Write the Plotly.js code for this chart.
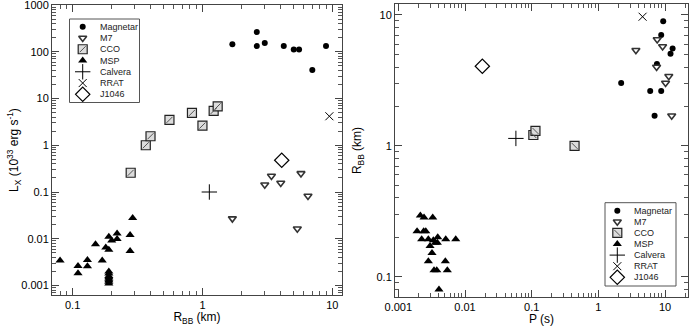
<!DOCTYPE html>
<html><head><meta charset="utf-8">
<script src="https://cdn.plot.ly/plotly-3.0.1.min.js"></script>
<style>html,body{margin:0;padding:0;background:#fff}</style>
</head><body><div id="chart" style="width:690px;height:326px"></div>
<script>
// ---------------- data ----------------
// Magnetars
const magR = [1.70, 2.62, 2.62, 3.02, 4.23, 5.05, 5.55, 7.02, 8.95];
const magL = [144, 264, 132, 153, 132, 112, 112, 40.6, 132];
const magP = [6.98, 6.0, 8.77, 2.20, 7.57, 12.1, 13.0, 8.77, 9.40];
// M7
const m7R = [1.70, 3.02, 3.40, 4.01, 5.38, 5.74, 6.50];
const m7L = [0.027, 0.143, 0.22, 0.156, 0.0164, 0.25, 0.082];
const m7P = [12.6, 10.2, 11.4, 7.48, 3.66, 9.2, 7.64];
// CCO (left panel: R vs L)
const ccoR = [0.28, 0.366, 0.398, 0.557, 0.83, 1.0, 1.22, 1.31];
const ccoL = [0.258, 1.0, 1.56, 3.49, 4.92, 2.64, 5.43, 6.8];
// CCO with known period (right panel)
const ccoP = [0.106, 0.114, 0.44];
const ccoRp = [1.21, 1.30, 1.0];
// MSP left panel
const mspR = [0.080, 0.110, 0.110, 0.130, 0.130, 0.150, 0.169, 0.180, 0.190, 0.190, 0.200, 0.220, 0.220, 0.277, 0.290, 0.277,
              0.19, 0.19, 0.19, 0.19, 0.19, 0.19, 0.19, 0.19];
const mspL = [0.00343, 0.00261, 0.00182, 0.0035, 0.00257, 0.0076, 0.00343, 0.0065, 0.0110, 0.0058, 0.0092, 0.013, 0.0099, 0.012, 0.0277, 0.00546,
              0.0011, 0.0012, 0.0013, 0.0014, 0.0015, 0.0016, 0.0018, 0.0020];
// MSP right panel
const mspP = [0.00214, 0.00243, 0.00328, 0.00191, 0.00240, 0.00258, 0.00224, 0.00282, 0.00335, 0.00390, 0.00514,
              0.00726, 0.00299, 0.00359, 0.00385, 0.00320, 0.00282, 0.00507, 0.00343, 0.00377, 0.00543, 0.00407];
const mspRp = [0.294, 0.283, 0.283, 0.223, 0.223, 0.223, 0.193, 0.193, 0.190, 0.200, 0.193,
               0.193, 0.172, 0.182, 0.182, 0.152, 0.131, 0.131, 0.112, 0.112, 0.112, 0.080];
// Calvera, RRAT, J1046
const calR = [1.13], calL = [0.10], calP = [0.058], calRp = [1.14];
const rratR = [9.5], rratL = [4.17], rratP = [4.61], rratRp = [9.7];
const jR = [4.08], jL = [0.478], jP = [0.0182], jRp = [4.06];

const legendLabels = ['Magnetar', 'M7', 'CCO', 'MSP', 'Calvera', 'RRAT', 'J1046'];
const lxTickVals = [0.001, 0.01, 0.1, 1, 10, 100, 1000];
const lxTickText = ['0.001', '0.01', '0.1', '1', '10', '100', '1000'];
const rTickVals = [0.1, 1, 10];
const rTickText = ['0.1', '1', '10'];
const pTickVals = [0.001, 0.01, 0.1, 1, 10];
const pTickText = ['0.001', '0.01', '0.1', '1', '10'];

// ---------------- styles ----------------
const FONT = 'Liberation Sans, Arial, Helvetica, sans-serif';
const W = 690, H = 326;
const styles = {
  Magnetar: {symbol: 'circle', size: 6, color: '#000', line: {color: '#000', width: 0}},
  M7: {symbol: 'triangle-down', size: 7, color: '#fff', line: {color: '#333', width: 1.6}},
  CCO: {symbol: 'square', size: 9, color: '#dcdcdc', line: {color: '#222', width: 1.2}},
  MSP: {symbol: 'triangle-up', size: 8, color: '#000', line: {color: '#000', width: 0}},
  Calvera: {symbol: 'cross-thin-open', size: 11, color: '#000', line: {color: '#000', width: 1}},
  RRAT: {symbol: 'x-thin-open', size: 8, color: '#000', line: {color: '#000', width: 1}},
  J1046: {symbol: 'diamond-open', size: 11, color: '#000', line: {color: '#000', width: 1.2}}
};
function hatch(dir) {
  return {symbol: dir, size: 6, color: '#555', line: {color: '#555', width: 1}};
}

// plot areas in pixels [left, right, top, bottom] and log ranges
const area = {
  x: [52, 342], y: [5, 295], x2: [395, 688], y2: [4, 297]
};
const ranges = {
  x: [-1.159, 1.075], y: [-3.203, 3.0],
  x2: [-3.05, 1.345], y2: [-1.155, 1.084]
};

const traces = [];
function add(name, x, y, xa, ya) {
  traces.push({type: 'scatter', mode: 'markers', x: x, y: y, xaxis: xa, yaxis: ya,
    marker: styles[name], showlegend: false, hoverinfo: 'skip', cliponaxis: false});
  if (name === 'CCO') {
    traces.push({type: 'scatter', mode: 'markers', x: x, y: y, xaxis: xa, yaxis: ya,
      marker: hatch(xa === 'x' ? 'line-ne' : 'line-nw'), showlegend: false, hoverinfo: 'skip', cliponaxis: false});
  }
}
// left panel
add('Magnetar', magR, magL, 'x', 'y');
add('M7', m7R, m7L, 'x', 'y');
add('CCO', ccoR, ccoL, 'x', 'y');
add('MSP', mspR, mspL, 'x', 'y');
add('Calvera', calR, calL, 'x', 'y');
add('RRAT', rratR, rratL, 'x', 'y');
add('J1046', jR, jL, 'x', 'y');
// right panel
add('Magnetar', magP, magR, 'x2', 'y2');
add('M7', m7P, m7R, 'x2', 'y2');
add('CCO', ccoP, ccoRp, 'x2', 'y2');
add('MSP', mspP, mspRp, 'x2', 'y2');
add('Calvera', calP, calRp, 'x2', 'y2');
add('RRAT', rratP, rratRp, 'x2', 'y2');
add('J1046', jP, jRp, 'x2', 'y2');

// ---------------- manual legends (pixel layout converted to paper / axis values) ----------------
const shapes = [], annotations = [];
function px2x(xa, px) { const a = area[xa], r = ranges[xa]; return Math.pow(10, r[0] + (px - a[0]) / (a[1] - a[0]) * (r[1] - r[0])); }
function px2y(ya, py) { const a = area[ya], r = ranges[ya]; return Math.pow(10, r[0] + (a[1] - py) / (a[1] - a[0]) * (r[1] - r[0])); }
function legend(xa, ya, box, symX, textX, rowTop, rowStep) {
  shapes.push({type: 'rect', xref: 'paper', yref: 'paper',
    x0: box[0] / W, x1: box[1] / W, y0: 1 - box[3] / H, y1: 1 - box[2] / H,
    line: {color: '#555', width: 1}, fillcolor: '#fff', layer: 'below'});
  legendLabels.forEach(function (lab, i) {
    const py = rowTop + i * rowStep;
    add(lab, [px2x(xa, symX)], [px2y(ya, py)], xa, ya);
    annotations.push({xref: 'paper', yref: 'paper', x: textX / W, y: 1 - py / H, text: lab, showarrow: false,
      xanchor: 'left', yanchor: 'middle', font: {family: FONT, size: 9, color: '#222'}});
  });
}
legend('x', 'y', [69.5, 139.5, 19, 102.5], 82.7, 98, 26.7, 11.27);
legend('x2', 'y2', [605, 676, 202.7, 286], 617.3, 632, 210.7, 11.1);

function logAxis(key, tv, tt, title) {
  const isX = key.charAt(0) === 'x';
  const a = area[key];
  const domain = isX ? [a[0] / W, a[1] / W] : [1 - a[1] / H, 1 - a[0] / H];
  return {
    type: 'log', range: ranges[key], domain: domain,
    anchor: isX ? key.replace('x', 'y') : key.replace('y', 'x'),
    tickmode: 'array', tickvals: tv, ticktext: tt,
    ticks: 'inside', ticklen: 7, tickwidth: 1, tickcolor: '#444',
    mirror: 'allticks', showline: true, linecolor: '#444', linewidth: 1,
    showgrid: false, zeroline: false, ticklabeloverflow: 'allow',
    tickfont: {family: FONT, size: 11, color: '#000'},
    title: {text: title, font: {family: FONT, size: 12, color: '#000'}},
    automargin: false
  };
}
// overlay axes carrying only the minor (2..9) ticks
function minorVals(r) {
  const out = [];
  for (let e = Math.floor(r[0]); e <= Math.ceil(r[1]); e++) for (let k = 2; k <= 9; k++) out.push(k * Math.pow(10, e));
  return out;
}
function minorAxis(base, anchor) {
  return {
    type: 'log', range: ranges[base], overlaying: base, anchor: anchor,
    tickmode: 'array', tickvals: minorVals(ranges[base]), showticklabels: false,
    ticks: 'inside', ticklen: 4, tickwidth: 1, tickcolor: '#555',
    mirror: 'allticks', showline: false, showgrid: false, zeroline: false
  };
}
traces.push({type: 'scatter', mode: 'markers', x: [], y: [], xaxis: 'x3', yaxis: 'y3', showlegend: false, hoverinfo: 'skip'});
traces.push({type: 'scatter', mode: 'markers', x: [], y: [], xaxis: 'x4', yaxis: 'y4', showlegend: false, hoverinfo: 'skip'});

const layout = {
  width: W, height: H,
  margin: {l: 0, r: 0, t: 0, b: 0},
  paper_bgcolor: '#fff', plot_bgcolor: '#fff',
  showlegend: false,
  font: {family: FONT, size: 11, color: '#000'},
  xaxis: logAxis('x', rTickVals, rTickText, 'R<sub>BB</sub> (km)'),
  yaxis: logAxis('y', lxTickVals, lxTickText, 'L<sub>X</sub> (10<sup>33</sup> erg s<sup>-1</sup>)'),
  xaxis2: logAxis('x2', pTickVals, pTickText, 'P (s)'),
  yaxis2: logAxis('y2', rTickVals, rTickText, 'R<sub>BB</sub> (km)'),
  xaxis3: minorAxis('x', 'y3'),
  yaxis3: minorAxis('y', 'x3'),
  xaxis4: minorAxis('x2', 'y4'),
  yaxis4: minorAxis('y2', 'x4'),
  shapes: shapes,
  annotations: annotations
};

Plotly.newPlot('chart', traces, layout, {staticPlot: true, displayModeBar: false});
</script></body></html>
